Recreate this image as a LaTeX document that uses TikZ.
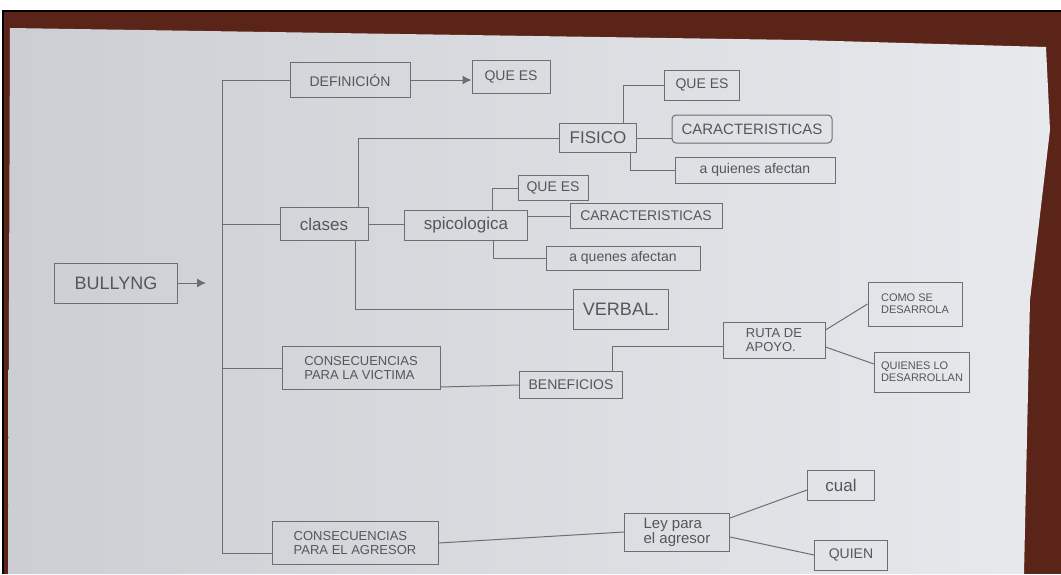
\documentclass[tikz,border=0pt]{standalone}
\usepackage{fontspec}
\setmainfont{Liberation Sans}
\usetikzlibrary{arrows.meta,calc}
\definecolor{wood}{HTML}{5A2418}
\definecolor{paperL}{HTML}{CDCED3}
\definecolor{paperR}{HTML}{E8E9ED}
\definecolor{pencil}{HTML}{6E6E72}
\definecolor{ink}{HTML}{55565A}
\tikzset{
  box/.style={draw=pencil, line width=1pt, text=ink, inner sep=2pt, align=center,
    font=\fontsize{14}{14}\selectfont},
  two/.style={align=left, font=\fontsize{13}{13.5}\selectfont},
  link/.style={draw=pencil, line width=1pt},
  arr/.style={link, -{Latex[length=9pt,width=9pt]}}
}
\begin{document}
\begin{tikzpicture}[x=1pt,y=-1pt]
\useasboundingbox (0,0) rectangle (1061,574);
\fill[white] (0,0) rectangle (1061,574);
\fill[black] (2,10) rectangle (1061,574);
\fill[wood] (4,12) rectangle (1061,574);
\shade[left color=paperL, right color=paperR]
  (10,28) -- (400,34) -- (800,40) -- (1046,47) -- (1050,130) -- (1030,300) -- (1024,574) -- (8,574) -- cycle;
% nodes
\node[box, minimum width=123, minimum height=40, font=\fontsize{18}{18}\selectfont] (bully) at (116,283) {BULLYNG};
\node[box, minimum width=120, minimum height=35] (def) at (350,80) {DEFINICIÓN};
\node[box, minimum width=78, minimum height=33] (qdef) at (511,77) {QUE ES};
\node[box, minimum width=88, minimum height=33, font=\fontsize{17}{17}\selectfont] (clases) at (324,224) {clases};
\node[box, minimum width=123, minimum height=30, font=\fontsize{17}{17}\selectfont] (psico) at (466,225) {spicologica};
\node[box, minimum width=77, minimum height=29, font=\fontsize{17}{17}\selectfont] (fisico) at (598,138) {FISICO};
\node[box, minimum width=75, minimum height=30] (fq) at (702,85) {QUE ES};
\node[box, minimum width=160, minimum height=28, rounded corners=4pt, font=\fontsize{15}{15}\selectfont] (fc) at (752,129) {CARACTERISTICAS};
\node[box, minimum width=160, minimum height=26] (fa) at (755,170) {a quienes afectan};
\node[box, minimum width=70, minimum height=25] (pq) at (553,188) {QUE ES};
\node[box, minimum width=152, minimum height=25] (pc) at (646,216) {CARACTERISTICAS};
\node[box, minimum width=154, minimum height=24] (pa) at (623,258) {a quenes afectan};
\node[box, minimum width=95, minimum height=40, font=\fontsize{18}{18}\selectfont] (verbal) at (621,309) {VERBAL.};
\node[box, two, minimum width=158, minimum height=43] (cv) at (361,368) {CONSECUENCIAS\\PARA LA VICTIMA};
\node[box, minimum width=103, minimum height=27] (ben) at (571,385) {BENEFICIOS};
\node[box, two, minimum width=102, minimum height=36] (ruta) at (774,340) {RUTA DE\\APOYO.};
\node[box, two, minimum width=94, minimum height=44, font=\fontsize{11}{12}\selectfont] (como) at (915,304) {COMO SE\\DESARROLA};
\node[box, two, minimum width=95, minimum height=40, font=\fontsize{11}{12}\selectfont] (quienes) at (922,372) {QUIENES LO\\DESARROLLAN};
\node[box, two, minimum width=166, minimum height=43] (ca) at (355,543) {CONSECUENCIAS\\PARA EL AGRESOR};
\node[box, two, minimum width=105, minimum height=38, font=\fontsize{15}{15}\selectfont] (ley) at (677,532) {Ley para\\el agresor};
\node[box, minimum width=67, minimum height=30, font=\fontsize{17}{17}\selectfont] (cual) at (841,485) {cual};
\node[box, minimum width=73, minimum height=30] (quien) at (851,555) {QUIEN};
% trunk
\coordinate (tTop) at (222,80);
\coordinate (tBot) at (222,553);
\coordinate (bEnd) at (206,283);
\draw[arr] (bully.east) -- (bEnd);
\draw[link] (tTop) -- (tBot);
\draw[link] (tTop) -- (def.west);
\draw[link] (clases.west -| tTop) -- (clases.west);
\draw[link] (cv.west -| tTop) -- (cv.west);
\draw[link] (tBot) -- (tBot -| ca.west);
\draw[arr] (def.east) -- (def.east -| qdef.west);
% clases
\draw[link] (clases.east) -- (clases.east -| psico.west);
\draw[link] ([xshift=-10pt]clases.north east) |- (fisico.west);
\draw[link] ([xshift=-13pt]clases.south east) |- (verbal.west);
% fisico
\draw[link] ([xshift=25pt]fisico.north) |- (fq.west);
\draw[link] (fisico.east) -- (fisico.east -| fc.west);
\draw[link] ([xshift=32pt]fisico.south) |- (fa.west);
% psicologica
\draw[link] ([xshift=26pt]psico.north) |- (pq.west);
\draw[link] (psico.east |- pc.west) -- (pc.west);
\draw[link] ([xshift=27pt]psico.south) |- (pa.west);
% victima
\draw[link] ([yshift=3pt]cv.south east) -- (ben.west);
\draw[link] ([xshift=41pt]ben.north) |- ([yshift=-6pt]ruta.west);
\draw[link] ([yshift=10pt]ruta.east) -- (como.west);
\draw[link] ([yshift=-7pt]ruta.east) -- ([yshift=8pt]quienes.west);
% agresor
\draw[link] (ca.east) -- (ley.west);
\draw[link] ([yshift=14pt]ley.east) -- ([yshift=-5pt]cual.west);
\draw[link] ([yshift=-5pt]ley.east) -- (quien.west);
\end{tikzpicture}
\end{document}
